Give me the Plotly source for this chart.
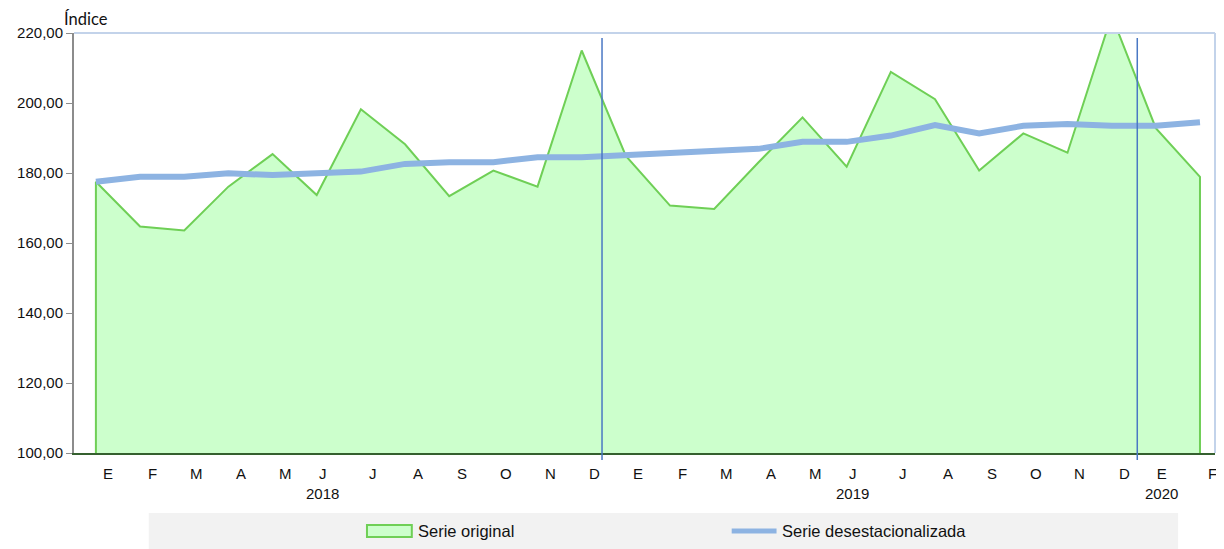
import plotly.graph_objects as go

# ---- data ----
months = ["E", "F", "M", "A", "M", "J", "J", "A", "S", "O", "N", "D",
          "E", "F", "M", "A", "M", "J", "J", "A", "S", "O", "N", "D",
          "E", "F"]
years = {5: "2018", 17: "2019", 24: "2020"}
serie_original = [177.5, 164.7, 163.6, 176.1, 185.4, 173.7, 198.2, 188.2, 173.4, 180.7, 176.1, 215.0,
                  184.9, 170.7, 169.7, 183.0, 195.9, 181.8, 208.9, 201.1, 180.7, 191.3, 185.8, 225.0,
                  192.8, 178.9]
serie_desest = [177.5, 178.9, 178.9, 179.9, 179.4, 179.7, 180.4, 182.6, 183.1, 183.1, 184.5, 184.5,
                185.1, 185.4, 185.9, 186.9, 188.9, 188.9, 190.7, 193.7, 191.3, 193.5, 194.0, 193.5,
                193.5, 194.5]
y_ticks = [100, 120, 140, 160, 180, 200, 220]
separators = [11.46, 23.58]  # year break markers (between categories)

Y_MIN, Y_MAX = 100, 220
n = len(months)
idx = list(range(n))

GREEN_LINE = "#6fcf56"
GREEN_FILL = "#ccffcc"
BLUE = "#8db3e2"
FONT = "Liberation Sans, Arial, sans-serif"

fig = go.Figure()

# area (closed down to the axis minimum so the side edges are drawn)
fig.add_trace(go.Scatter(
    x=[idx[0]] + idx + [idx[-1]],
    y=[Y_MIN] + serie_original + [Y_MIN],
    mode="lines", fill="tozeroy", fillcolor=GREEN_FILL,
    line=dict(color=GREEN_LINE, width=2), name="Serie original",
    showlegend=False, hoverinfo="skip"))

fig.add_trace(go.Scatter(
    x=idx, y=serie_desest, mode="lines",
    line=dict(color=BLUE, width=6), name="Serie desestacionalizada",
    showlegend=False))

shapes = []
# top / right border of plot area
shapes.append(dict(type="line", xref="paper", yref="paper", x0=0, x1=1, y0=1, y1=1,
                   line=dict(color="#c3d3ea", width=2), layer="above"))
shapes.append(dict(type="line", xref="paper", yref="paper", x0=1, x1=1, y0=0, y1=1,
                   line=dict(color="#c3d3ea", width=2), layer="above"))
# separators
for s in separators:
    shapes.append(dict(type="line", xref="x", yref="paper", x0=s, x1=s, y0=-0.0167, y1=0.988,
                       line=dict(color="#4a78c4", width=1.5), layer="above"))

# helpers: page pixel -> paper fraction (plot area 70..1215 x 33..453)
def px_x(p):
    return (p - 70) / 1145

def px_y(p):
    return (453 - p) / 420

shapes.append(dict(type="rect", xref="paper", yref="paper", x0=px_x(145), x1=px_x(1178),
                   y0=px_y(552), y1=px_y(513), fillcolor="#f2f2f2", line=dict(width=0), layer="below"))
shapes.append(dict(type="rect", xref="paper", yref="paper", x0=px_x(364), x1=px_x(409),
                   y0=px_y(537), y1=px_y(525), fillcolor=GREEN_FILL,
                   line=dict(color=GREEN_LINE, width=2)))
shapes.append(dict(type="line", xref="paper", yref="paper", x0=px_x(730), x1=px_x(775),
                   y0=px_y(531), y1=px_y(531), line=dict(color=BLUE, width=5)))

annotations = []
for i, m in enumerate(months):
    txt = m + ("<br>" + years[i] if i in years else "")
    annotations.append(dict(x=i, y=px_y(463), xref="x", yref="paper", text=txt,
                            showarrow=False, xanchor="center", yanchor="top",
                            xshift=5.5 if i in years else 12.5,
                            font=dict(family=FONT, size=15, color="#111")))
annotations.append(dict(x=px_x(413), y=px_y(531), xref="paper", yref="paper",
                        text="Serie original", showarrow=False, xanchor="left", yanchor="middle",
                        font=dict(family=FONT, size=16.5, color="#111")))
annotations.append(dict(x=px_x(778), y=px_y(531), xref="paper", yref="paper",
                        text="Serie desestacionalizada", showarrow=False, xanchor="left",
                        yanchor="middle", font=dict(family=FONT, size=16.5, color="#111")))
annotations.append(dict(x=px_x(59), y=px_y(19.5), xref="paper", yref="paper",
                        text="Índice", showarrow=False, xanchor="left", yanchor="middle",
                        borderpad=0,
                        font=dict(family="Lato, Open Sans, sans-serif", size=16.5, color="#111")))

# the page body has an 8px margin, so the figure is drawn 8px right/down
fig.update_layout(
    width=1216, height=541,
    margin=dict(l=62, r=9, t=25, b=96),
    paper_bgcolor="white", plot_bgcolor="white",
    separators=",.",
    showlegend=False,
    shapes=shapes, annotations=annotations,
    xaxis=dict(range=[-0.496, 25.34], showticklabels=False, showgrid=False, zeroline=False,
               showline=True, linecolor="#35602f", linewidth=2, ticks=""),
    yaxis=dict(range=[Y_MIN, Y_MAX], tickvals=y_ticks, tickformat=".2f", showgrid=False,
               zeroline=False, showline=True, linecolor="#8c8c8c", linewidth=2,
               ticks="outside", ticklen=6, tickcolor="#8c8c8c", tickwidth=1,
               tickfont=dict(family=FONT, size=15, color="#111")),
)

fig.write_html("out.html")
